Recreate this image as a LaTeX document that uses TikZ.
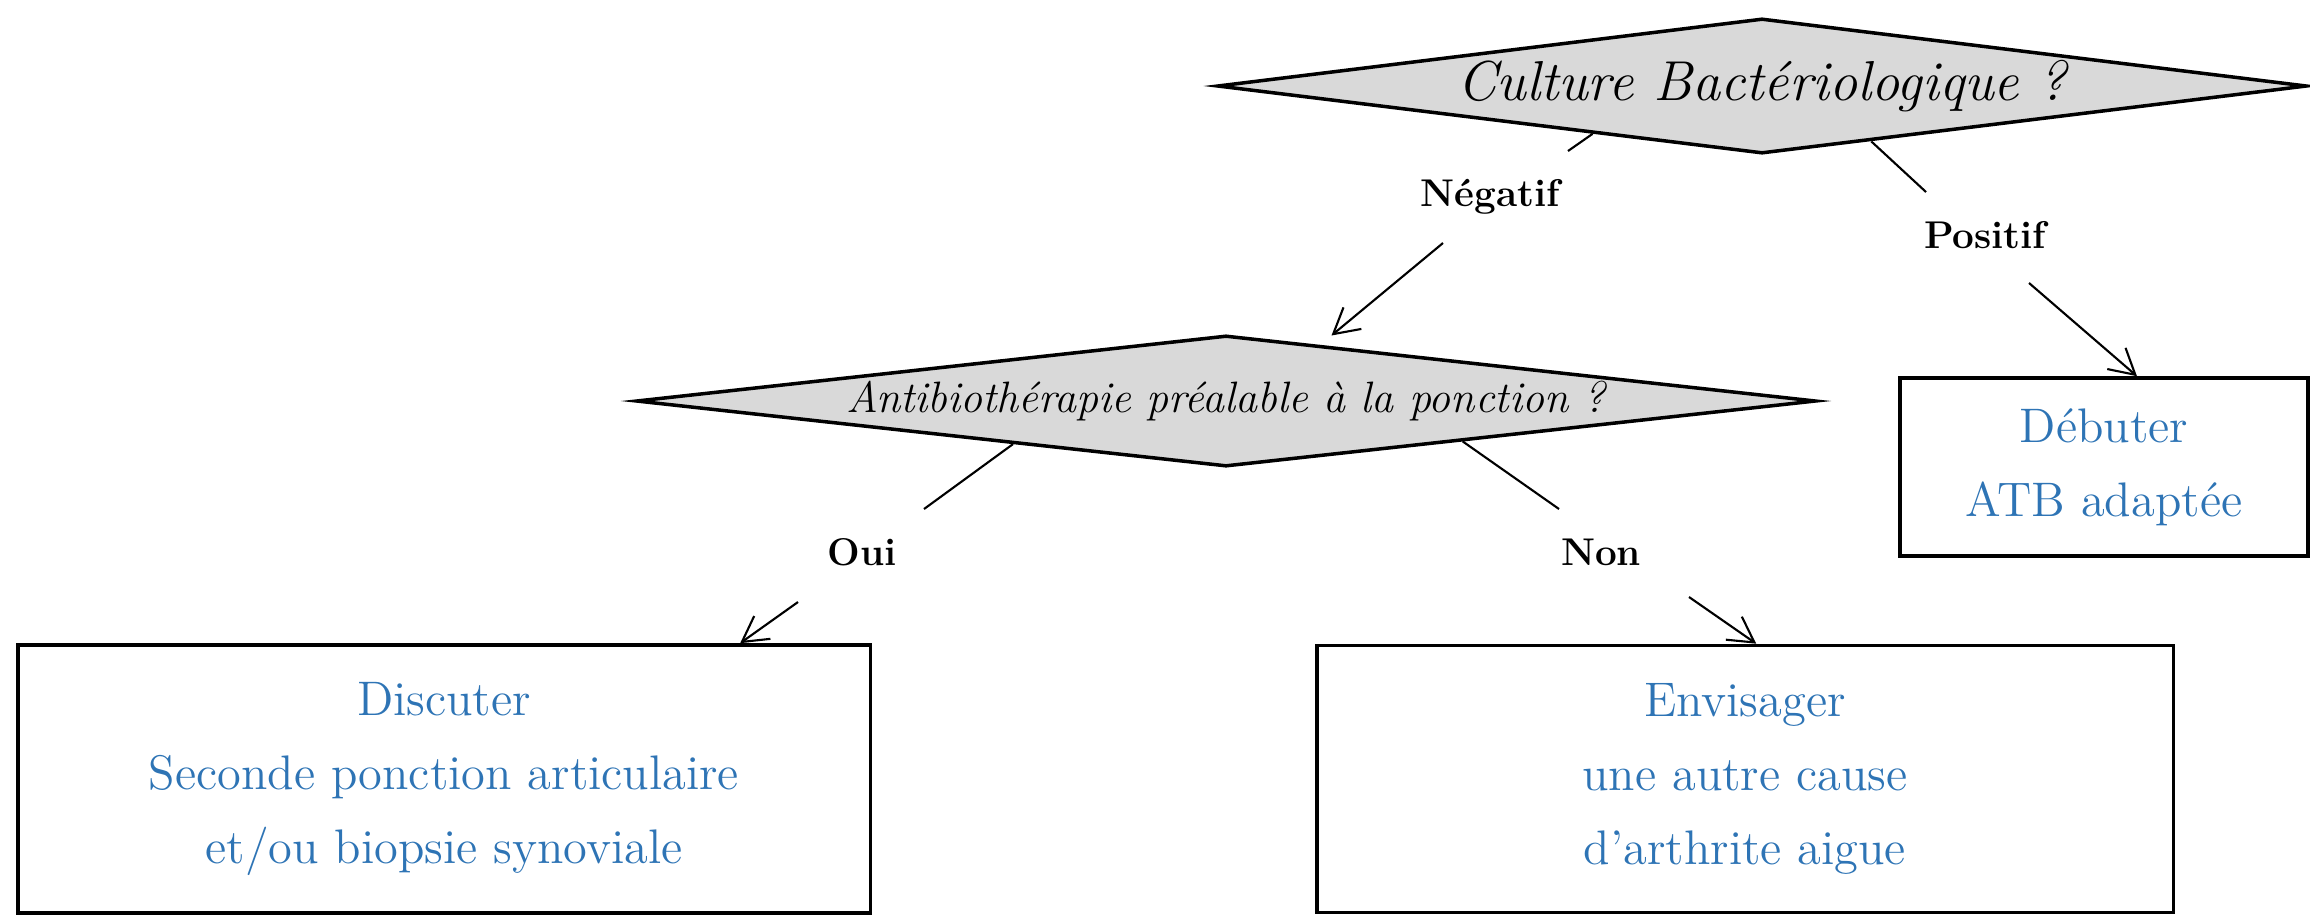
\documentclass[tikz,border=0pt]{standalone}
\usepackage{tikz}
\usetikzlibrary{arrows.meta,calc,shapes.geometric}
\definecolor{bleu}{RGB}{46,116,181}
\definecolor{gris}{RGB}{217,217,217}

\begin{document}
\begin{tikzpicture}[x=0.01cm, y=-0.01cm,
        decision/.style = {diamond, draw, fill=gris, line width=1pt, inner sep=0pt, aspect=8},
        action/.style = {rectangle, draw, line width=1pt, align=center, text=bleu, font=\fontsize{13.8}{21}\selectfont},
        choix/.style = {font=\fontsize{11}{13}\selectfont\bfseries},
        trait/.style = {line width=0.6pt},
        fleche/.style = {trait, -{Straight Barb[length=2.5mm, width=2.8mm]}}]
    \useasboundingbox (0,0) rectangle (2310,914);

    % questions
    \node[decision, minimum width=10.89cm, minimum height=1.35cm] (culture) at (1762,86)
        {\makebox[0pt]{\fontsize{16}{18}\selectfont\itshape Culture Bactériologique ?}};
    \node[decision, minimum width=11.79cm, minimum height=1.31cm] (antibio) at (1226,401)
        {\makebox[0pt]{\fontsize{12.5}{14}\selectfont\itshape Antibiothérapie préalable à la ponction ?}};

    % conduites
    \node[action, minimum width=4.08cm, minimum height=1.78cm] (debuter) at (2104,467) {Débuter\\ATB adaptée};
    \node[action, minimum width=8.52cm, minimum height=2.68cm] (discuter) at (444,779)
        {Discuter\\Seconde ponction articulaire\\et/ou biopsie synoviale};
    \node[action, minimum width=8.56cm, minimum height=2.67cm] (envisager) at (1745,779)
        {Envisager\\une autre cause\\d'arthrite aigue};

    % reponses
    \node[choix] (neg) at (1490,197) {Négatif};
    \node[choix] (pos) at (1985,235) {Positif};
    \node[choix] (oui) at (862,552)  {Oui};
    \node[choix] (non) at (1601,552) {Non};

    \coordinate (neg_a) at (1568,151);
    \coordinate (neg_b) at (1443,243);
    \coordinate (pos_a) at (1926,192);
    \coordinate (pos_b) at (2029,283);
    \coordinate (oui_a) at (924,509);
    \coordinate (oui_b) at (798,602);
    \coordinate (non_a) at (1559,509);
    \coordinate (non_b) at (1689,597);

    \draw[trait] ($(culture.west)!0.69!(culture.south)$) -- (neg_a);
    \draw[fleche, shorten >=4pt] (neg_b) -- ($(antibio.north)!0.16!(antibio.east)$);
    \draw[trait] ($(culture.south)!0.2!(culture.east)$) -- (pos_a);
    \draw[fleche] (pos_b) -- ($(debuter.north west)!0.58!(debuter.north east)$);
    \draw[trait] ($(antibio.west)!0.64!(antibio.south)$) -- (oui_a);
    \draw[fleche] (oui_b) -- ($(discuter.north west)!0.846!(discuter.north east)$);
    \draw[trait] ($(antibio.south)!0.4!(antibio.east)$) -- (non_a);
    \draw[fleche] (non_b) -- ($(envisager.north west)!0.513!(envisager.north east)$);
\end{tikzpicture}
\end{document}
